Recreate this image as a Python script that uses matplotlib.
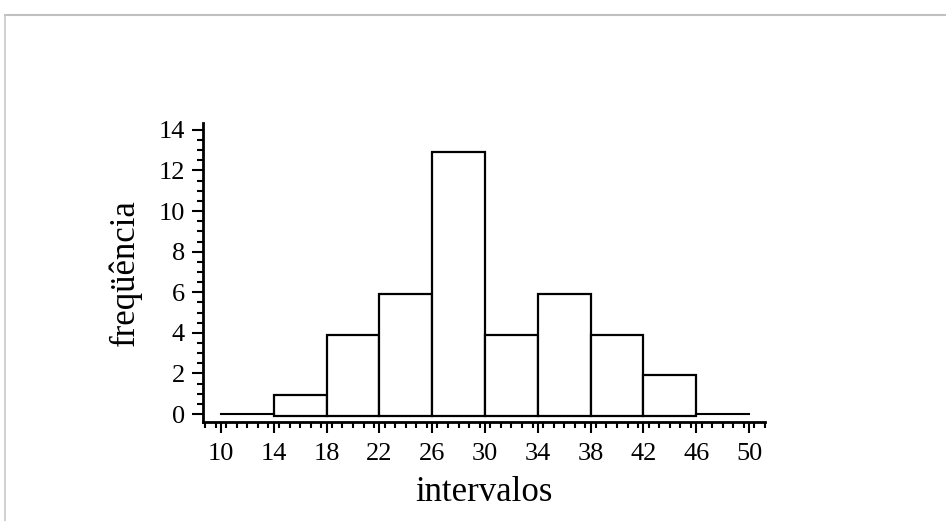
import matplotlib.pyplot as plt
from matplotlib.lines import Line2D
from matplotlib.ticker import MultipleLocator

plt.rcParams['font.family'] = ['Liberation Serif', 'DejaVu Serif']

edges = [10, 14, 18, 22, 26, 30, 34, 38, 42, 46, 50]
freq = [0, 1, 4, 6, 13, 4, 6, 4, 2, 0]

fig = plt.figure(figsize=(9.46, 5.21), dpi=100)
# light frame (top and left edges only)
top_y = 1 - 14.5 / 521
left_x = 4.5 / 946
fig.lines.append(Line2D([left_x, 1], [top_y, top_y], transform=fig.transFigure,
                        color='#c0c0c0', lw=1.5))
fig.lines.append(Line2D([left_x, left_x], [0, top_y], transform=fig.transFigure,
                        color='#c8c8c8', lw=1.2))

ax = fig.add_axes([0.2146, 0.190, 0.594, 0.574])

for i, f in enumerate(freq):
    left, w = edges[i], edges[i + 1] - edges[i]
    if f == 0:
        ax.plot([left, left + w], [0, 0], color='black', lw=1.5)
    else:
        ax.bar(left, f, width=w, bottom=-0.08, align='edge', facecolor='white',
               edgecolor='black', lw=1.6)

ax.set_xlim(8.64, 51.2)
ax.set_ylim(-0.39, 14.34)
ax.set_xticks(edges)
ax.set_yticks(range(0, 15, 2))
ax.xaxis.set_minor_locator(MultipleLocator(0.8))
ax.yaxis.set_minor_locator(MultipleLocator(0.5))

for s in ['top', 'right']:
    ax.spines[s].set_visible(False)
for s in ['left', 'bottom']:
    ax.spines[s].set_linewidth(2)

ax.tick_params(which='major', length=8, width=1.5, labelsize=19, pad=5)
ax.tick_params(axis='x', which='major', pad=7)
ax.tick_params(which='minor', length=4, width=1.5)

ax.set_xlabel('intervalos', fontsize=25, labelpad=8)
ax.set_ylabel('freqüência', fontsize=25, labelpad=12)

fig.savefig('out.png', dpi=100)
